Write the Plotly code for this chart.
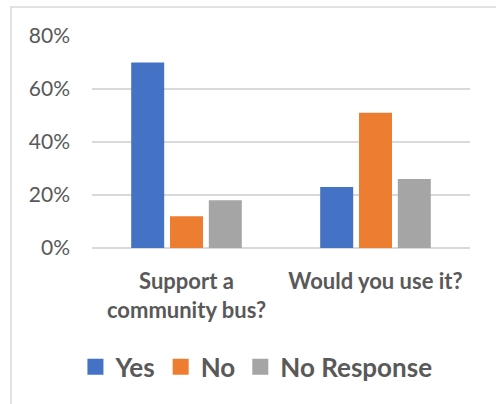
import plotly.graph_objects as go

categories = ["Support a<br>community bus?", "Would you use it?"]
series_names = ["Yes", "No", "No Response"]
yes_vals = [0.70, 0.23]
no_vals = [0.12, 0.51]
noresp_vals = [0.18, 0.26]
colors = ["#4472C4", "#ED7D31", "#A5A5A5"]
y_ticks = [0, 0.2, 0.4, 0.6, 0.8]
y_ticktext = ["0%", "20%", "40%", "60%", "80%"]

FONT = "Lato"
GRAY = "#595959"

fig = go.Figure()
for name, vals, col in zip(series_names, [yes_vals, no_vals, noresp_vals], colors):
    fig.add_trace(go.Bar(
        name=name, x=categories, y=vals, marker=dict(color=col, line=dict(width=0)),
        hoverinfo="skip", showlegend=False,
    ))
# legend entries with larger square swatches
for name, col in zip(series_names, colors):
    fig.add_trace(go.Scatter(
        name=name, x=[None], y=[None], mode="markers",
        marker=dict(symbol="square", size=16, color=col), showlegend=True,
    ))

fig.update_layout(
    width=496, height=404,
    margin=dict(l=92, r=26, t=36, b=156),
    paper_bgcolor="white", plot_bgcolor="white",
    barmode="group", bargap=0.384, bargroupgap=0.15,
    font=dict(family=FONT, color=GRAY),
    showlegend=True,
    legend=dict(orientation="h", x=0.435, xanchor="center", y=-0.561, yanchor="middle",
                font=dict(size=26, family=FONT, color=GRAY, weight="bold"),
                itemwidth=30, tracegroupgap=0),
    xaxis=dict(
        tickmode="array", tickvals=categories,
        ticktext=["<b>" + c + "</b>" for c in categories],
        tickfont=dict(size=22, family=FONT, color=GRAY),
        showline=False, ticks="", ticklabelstandoff=18,
    ),
    yaxis=dict(
        range=[0, 0.8], tickvals=y_ticks, ticktext=y_ticktext,
        tickfont=dict(size=21, family=FONT, color=GRAY),
        showgrid=True, gridcolor="#D9D9D9", gridwidth=1.5,
        zeroline=True, zerolinecolor="#D9D9D9", zerolinewidth=1.5,
        ticks="", ticklabelstandoff=21,
    ),
    shapes=[dict(type="rect", xref="paper", yref="paper",
                 x0=(11 - 92) / 378, x1=1.5, y0=-1.5, y1=1 + (36 - 7) / 212,
                 line=dict(color="#D9D9D9", width=1.5), fillcolor="rgba(0,0,0,0)", layer="below")],
)

fig.write_html("out.html", config={"displayModeBar": False},
               post_script="document.body.style.margin='0';")
